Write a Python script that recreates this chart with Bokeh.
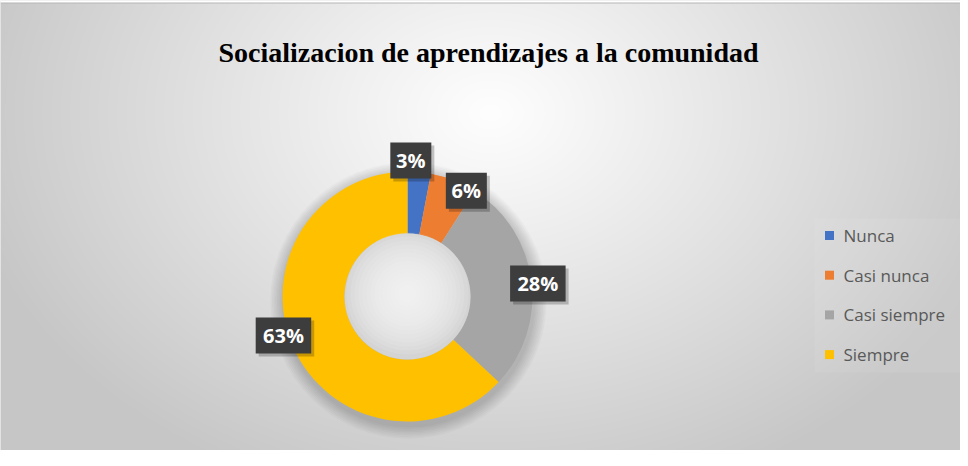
import numpy as np
from bokeh.plotting import figure
from bokeh.models import Range1d, ColumnDataSource
from bokeh.core.properties import value
from bokeh.embed import file_html
from bokeh.resources import INLINE

# ---- data ----
categories = ["Nunca", "Casi nunca", "Casi siempre", "Siempre"]
percentages = [3, 6, 28, 63]
colors = ["#4472C4", "#ED7D31", "#A5A5A5", "#FFC000"]
title_text = "Socializacion de aprendizajes a la comunidad"

# label placement tweaks (best-fit style): angle shift (deg, clockwise) and radius
label_shift_deg = [-4.0, 7.5, 1.5, 6.0]
label_radius = [136, 121, 131, 130]

W, H = 960, 450
p = figure(width=W, height=H, output_backend="svg", toolbar_location=None,
           x_range=Range1d(0, W), y_range=Range1d(0, H), min_border=0)
p.axis.visible = False
p.grid.visible = False
p.outline_line_color = None
p.background_fill_color = "#dcdcdc"
p.border_fill_color = "white"

# ---- radial gradient background ----
ys, xs = np.mgrid[0:H, 0:W]
dx = (xs - 490) / 560.0
dy = (ys - 112) / 420.0
d = np.sqrt(dx ** 2 + dy ** 2)
v = np.clip(254 - 58 * d ** 1.05, 198, 254).astype(np.uint32)
v[0:2, :] = 255
v[2, :] = 182
img = (255 << 24) | (v << 16) | (v << 8) | v
img = img[::-1].astype(np.uint32)
p.image_rgba(image=[img], x=0, y=0, dw=W, dh=H)

# ---- donut geometry ----
cx, cy = 407, 154
r_out, r_in = 125, 63

# soft shadow under donut
for k in range(8):
    p.circle(x=cx + 1, y=cy - 4, radius=r_out + 2 + k * 1.6, fill_color="black",
             fill_alpha=0.022, line_color=None)

fr = np.array(percentages, dtype=float) / sum(percentages)
c1 = np.cumsum(fr)
c0 = c1 - fr
start = np.pi / 2 - 2 * np.pi * c0
end = np.pi / 2 - 2 * np.pi * c1
src = ColumnDataSource(dict(start=start, end=end, color=colors, cat=categories))
p.annular_wedge(x=cx, y=cy, inner_radius=r_in, outer_radius=r_out,
                start_angle="start", end_angle="end", direction="clock",
                fill_color="color", line_color=None, source=src)

# hole shading
p.circle(x=cx, y=cy, radius=r_in, fill_color="#d4d4d4", line_color=None)
for k in range(14):
    p.circle(x=cx, y=cy + 3, radius=r_in - 2 - k * 4, fill_color="#f4f4f4",
             fill_alpha=0.13, line_color=None)

# ---- data labels ----
mid = np.pi / 2 - 2 * np.pi * (c0 + c1) / 2 - np.radians(label_shift_deg)
rl = np.array(label_radius, dtype=float)
lx = cx + rl * np.cos(mid)
ly = cy + rl * np.sin(mid)
labels = [f"{v_}%" for v_ in percentages]
bw = [12 + 14.5 * len(s) for s in labels]
lab = ColumnDataSource(dict(x=lx, y=ly, sx=lx + 3, sy=ly - 3, w=bw, t=labels))
p.rect(x="sx", y="sy", width="w", height=36, fill_color="black", fill_alpha=0.22,
       line_color=None, source=lab)
p.rect(x="x", y="y", width="w", height=36, fill_color="#3d3d3d",
       line_color=None, source=lab)
p.text(x="x", y="y", text="t", text_color="white", text_font=value("Open Sans"),
       text_font_style="bold", text_font_size="20px", text_align="center",
       text_baseline="middle", source=lab)

# ---- title ----
p.text(x=[488], y=[H - 52], text=[title_text], text_font=value("Liberation Serif"),
       text_font_style="bold", text_font_size="28px", text_color="black",
       text_align="center", text_baseline="middle")

# ---- legend ----
p.rect(x=[814 + 73], y=[H - (303 - 8)], width=146, height=154,
       fill_color="white", fill_alpha=0.07, line_color=None)
n = len(categories)
leg_y = H - (243 - 8) - 39.7 * np.arange(n)
leg = ColumnDataSource(dict(x=[829] * n, tx=[843] * n, y=leg_y, c=colors, t=categories))
p.rect(x="x", y="y", width=9, height=9, fill_color="c", line_color=None, source=leg)
p.text(x="tx", y="y", text="t", text_color="#595959", text_font=value("Open Sans"),
       text_font_size="17px", text_baseline="middle", source=leg)

open("out.html", "w").write(file_html(p, INLINE))
